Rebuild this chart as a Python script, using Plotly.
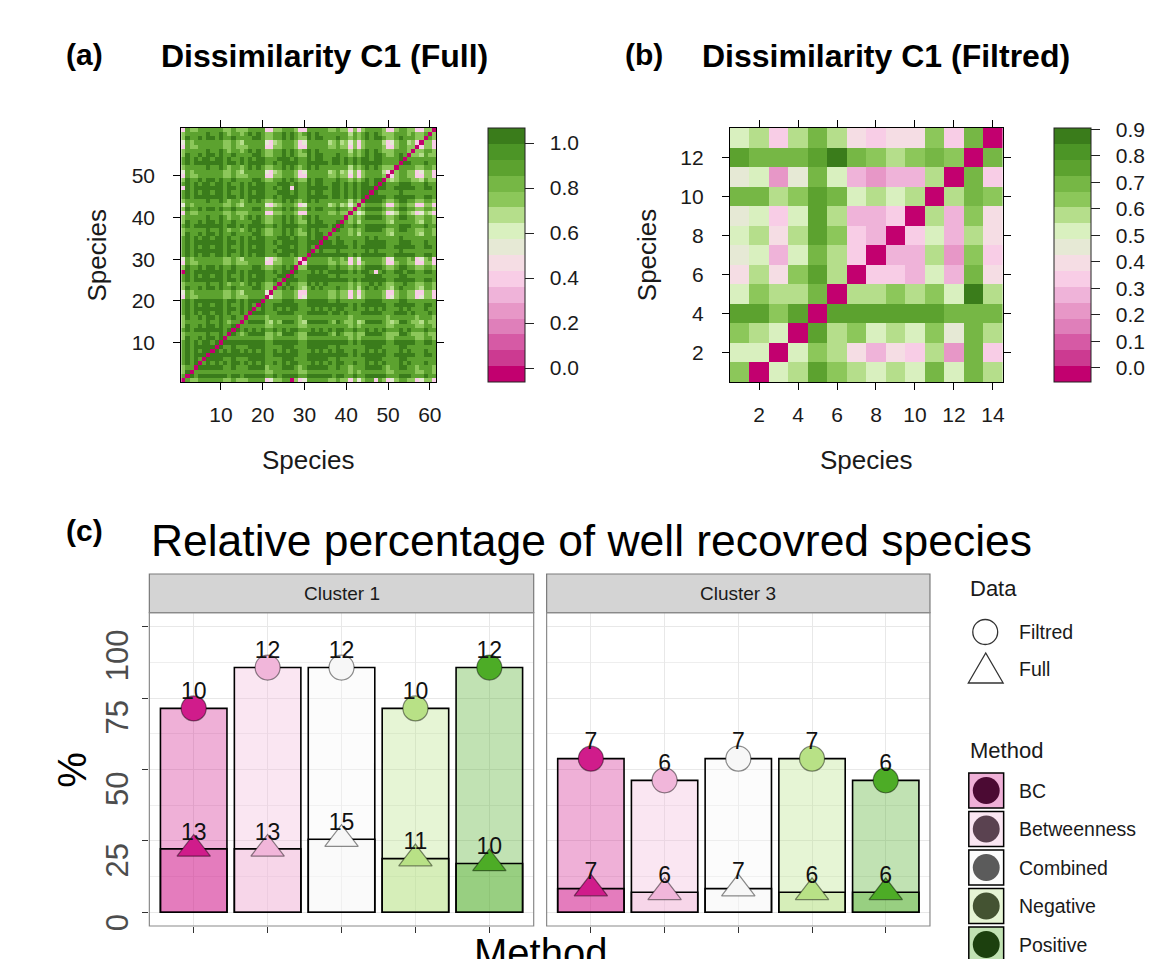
import numpy as np
import plotly.graph_objects as go

W, H = 1160, 959
def px(x): return x / W
def py(y): return 1 - y / H

FONT = "Liberation Sans, Arial, sans-serif"

# ---------------- DATA ----------------
# Panel (a): lower triangle of the 61x61 dissimilarity matrix (row i holds columns 1..i-1)
full_lower = [
    "",
    "9",
    "7a",
    "789",
    "9a9a",
    "9a9a9",
    "9a9aaa",
    "9a9a9aa",
    "9a9aaaaa",
    "9a9a9aa9a",
    "7a88a9aa9a",
    "789889a99a 8",
    "9a9aaaaaaa 9a",
    "7a88a9aa9a 88a",
    "789889a99a 8798",
    "7a88a9aa9a 88a88",
    "9a9a9aa9aa 8a99a8",
    "9a9aaaaaaa 9aa9a9a",
    "9a9a9aa9aa 8a99a8a9",
    "9a9aaaaaaa 9aa9a9aaa",
    "4977999999 7797779999",
    "5978999899 7797689989 5",
    "7a88a9aa9a 88a8889aa9 77",
    "789889a99a 879878a9a9 778",
    "9a9aaaaaaa 9aa9a9aaaa 99a9",
    "9a9a9aa9aa 8a99a8a9aa 989aa",
    "0a9aaaaaaa 9aa9a9aaaa 99a9aa",
    "7a88a9aa9a 88a8889aa9 7788a9a",
    "4977999999 7797779999 44779997",
    "5978999899 7797689989 546789974",
    "9a9a9aa9aa 8a99a8a9aa 989aaa9a98",
    "9a9aaaaaaa 9aa9a9aaaa 99a9aaaa99 a",
    "9a9a9aa9aa 8a99a8a9aa 989aaa9a98 a9",
    "9a9aaaaaaa 9aa9a9aaaa 99a9aaaa99 aaa",
    "9a9a9aa9aa 8a99a8a9aa 989aaa9a98 a9aa",
    "7a88a9aa9a 88a8889aa9 7788a9a877 a9aa9",
    "789889a99a 879878a9a9 7789a9a878 a9a998",
    "9a9aaaaaaa 9aa9a9aaaa 99a9aaaa99 aaaaa9a",
    "7a88a9aa9a 88a8889aa9 7788a9a877 a9aa988a",
    "789889a99a 879878a9a9 7789a9a878 a9a998898",
    "4977999999 7797779999 4477999744 9999977977",
    "7a88a9aa9a 88a8889aa9 7788a9a877 a9aa988a88 7",
    "5978999899 7797689989 5467899745 9899967967 57",
    "789889a99a 879878a9a9 7789a9a878 a9a9988988 687",
    "9a9aaaaaaa 9aa9a9aaaa 99a9aaaa99 aaaaa9aa9a 9a9a",
    "9a9a9aa9aa 8a99a8a9aa 989aaa9a98 a9aa99aa8a 8a9aa",
    "4a9aaaaaaa 9aa9a9aaaa 99a9aa4a99 aaaaa9aa9a 9a9aaa",
    "9a9a9aa9aa 8a99a8a9aa 989aaa9a98 a9aa99aa8a 8a9aa9a",
    "7a88a9aa9a 88a8889aa9 7788a9a877 a9aa988a88 7878a9aa",
    "4977999999 7797779999 4477999744 9999977977 474799997",
    "5978999899 7797689989 5467899745 9899967967 5747989964",
    "789889a99a 879878a9a9 7789a9a878 a9a9988988 6879a9a977 7",
    "9a9aaaaaaa 9aa9a9aaaa 99a9aaaa99 aaaaa9aa9a 9a9aaaaa99 99",
    "9a9a9aa9aa 8a99a8a9aa 989aaa9a98 a9aa99aa8a 8a9aa9aa98 89a",
    "7a88a9aa9a 88a8889aa9 7788a9a877 a9aa988a88 7878a9aa87 78a9",
    "789889a99a 879878a9a9 7789a9a878 a9a9988988 6879a9a977 78997",
    "4977999999 7797779999 4477999744 9999977977 4747999974 479977",
    "5978999899 7797689989 5467899745 9899967967 5747989964 5789674",
    "7a88a9aa9a 88a8889aa9 7788a9a877 a9aa988a88 7878a9aa87 78a98877",
    "789889a99a 879878a9a9 7789a9a878 a9a9988988 6879a9a977 789978778",
    "4977999999 7797779999 4477999744 9999977977 4747999974 4799774477",
]
# value of each level code used in the strings above
level_value = {"0": 0.0, "4": 0.42, "5": 0.55, "6": 0.65, "7": 0.76,
               "8": 0.86, "9": 0.92, "a": 1.0}

# Panel (b): 13 rows (y = 1..13, bottom to top) x 14 columns (x = 1..14)
filt_rows = [
    [0.64, 0.00, 0.52, 0.58, 0.77, 0.64, 0.58, 0.52, 0.58, 0.52, 0.68, 0.52, 0.72, 0.58],
    [0.52, 0.52, 0.00, 0.52, 0.64, 0.58, 0.42, 0.28, 0.42, 0.34, 0.58, 0.22, 0.68, 0.34],
    [0.64, 0.58, 0.52, 0.00, 0.77, 0.58, 0.64, 0.52, 0.58, 0.52, 0.64, 0.46, 0.68, 0.58],
    [0.77, 0.77, 0.64, 0.77, 0.00, 0.76, 0.77, 0.76, 0.77, 0.77, 0.76, 0.68, 0.72, 0.68],
    [0.52, 0.64, 0.58, 0.58, 0.72, 0.00, 0.58, 0.58, 0.64, 0.58, 0.64, 0.52, 0.87, 0.58],
    [0.42, 0.58, 0.42, 0.64, 0.77, 0.58, 0.00, 0.34, 0.34, 0.28, 0.52, 0.28, 0.68, 0.42],
    [0.46, 0.52, 0.28, 0.52, 0.72, 0.58, 0.34, 0.00, 0.28, 0.28, 0.58, 0.22, 0.64, 0.34],
    [0.52, 0.58, 0.42, 0.58, 0.77, 0.64, 0.34, 0.28, 0.00, 0.34, 0.52, 0.28, 0.60, 0.42],
    [0.46, 0.52, 0.34, 0.52, 0.77, 0.58, 0.28, 0.28, 0.34, 0.00, 0.58, 0.28, 0.64, 0.42],
    [0.68, 0.68, 0.60, 0.64, 0.77, 0.68, 0.52, 0.58, 0.52, 0.58, 0.00, 0.58, 0.72, 0.64],
    [0.46, 0.52, 0.22, 0.46, 0.68, 0.52, 0.28, 0.22, 0.28, 0.28, 0.58, 0.00, 0.68, 0.34],
    [0.77, 0.72, 0.68, 0.68, 0.77, 0.87, 0.68, 0.64, 0.58, 0.64, 0.72, 0.64, 0.00, 0.68],
    [0.52, 0.58, 0.34, 0.58, 0.68, 0.58, 0.42, 0.34, 0.42, 0.42, 0.64, 0.34, 0.68, 0.00],
]

cb_a_ticks = [0.0, 0.2, 0.4, 0.6, 0.8, 1.0]
cb_b_ticks = [0.0, 0.1, 0.2, 0.3, 0.4, 0.5, 0.6, 0.7, 0.8, 0.9]
a_ticks = [10, 20, 30, 40, 50, 60]
a_yticks = [10, 20, 30, 40, 50]
b_xticks = [2, 4, 6, 8, 10, 12, 14]
b_yticks = [2, 4, 6, 8, 10, 12]

# Panel (c)
methods = ["BC", "Betweenness", "Combined", "Negative", "Positive"]
clusters = ["Cluster 1", "Cluster 3"]
filtred_pct = {"Cluster 1": [71.4, 85.7, 85.7, 71.4, 85.7],
               "Cluster 3": [53.8, 46.2, 53.8, 53.8, 46.2]}
filtred_n = {"Cluster 1": [10, 12, 12, 10, 12],
             "Cluster 3": [7, 6, 7, 7, 6]}
full_pct = {"Cluster 1": [22.2, 22.2, 25.6, 18.8, 17.1],
            "Cluster 3": [8.3, 7.0, 8.3, 7.0, 7.0]}
full_n = {"Cluster 1": [13, 13, 15, 11, 10],
          "Cluster 3": [7, 6, 7, 6, 6]}
c_yticks = [0, 25, 50, 75, 100]

# ---------------- STYLE ----------------
method_colors = ["#d01c8b", "#f1b6da", "#f7f7f7", "#b8e186", "#4dac26"]
legend_inner = ["#4b0a33", "#5a4250", "#5b5b5b", "#445332", "#1c400e"]
bins16 = ["#c2006f", "#cc3a91", "#d65aa5", "#df7fba", "#e797c7", "#efb3d9",
          "#f8cde6", "#f5dde4", "#e6e9d5", "#d9f0bf", "#b5de8b", "#8cc75a",
          "#76b745", "#5ca22f", "#4c9526", "#3a7c1b"]

def discrete_scale(cols):
    n = len(cols)
    sc = []
    for k, c in enumerate(cols):
        sc.append([k / n, c])
        sc.append([(k + 1) / n, c])
    return sc

def rgba(hx, a):
    hx = hx.lstrip("#")
    r, g, b = int(hx[0:2], 16), int(hx[2:4], 16), int(hx[4:6], 16)
    return f"rgba({r},{g},{b},{a})"

# build matrix (a)
n = len(full_lower)
Z = np.zeros((n, n))
for i, s in enumerate(full_lower):
    s = s.replace(" ", "")
    for j, ch in enumerate(s[:i]):
        v = level_value[ch]
        Z[i, j] = v
        Z[j, i] = v

fig = go.Figure()

axis_font = dict(family=FONT, size=21, color="#1a1a1a")
cb_prefix = "\u00a0\u00a0"

fig.add_trace(go.Heatmap(
    z=Z, x=list(range(1, n + 1)), y=list(range(1, n + 1)),
    colorscale=discrete_scale(bins16), zmin=-0.062, zmax=1.067,
    xaxis="x", yaxis="y", hoverinfo="skip",
    colorbar=dict(x=px(490), xanchor="left", xpad=0, y=py(255), yanchor="middle", ypad=0,
                  len=254, lenmode="pixels", thickness=37, thicknessmode="pixels",
                  outlinewidth=1, outlinecolor="#222",
                  tickvals=cb_a_ticks, ticktext=[cb_prefix + f"{v:.1f}" for v in cb_a_ticks],
                  ticks="outside", ticklen=9, tickcolor="#222", tickfont=axis_font)))

fig.add_trace(go.Heatmap(
    z=filt_rows, x=list(range(1, 15)), y=list(range(1, 14)),
    colorscale=discrete_scale(bins16), zmin=-0.053, zmax=0.905,
    xaxis="x2", yaxis="y2", hoverinfo="skip",
    colorbar=dict(x=px(1059), xanchor="left", xpad=0, y=py(255), yanchor="middle", ypad=0,
                  len=254, lenmode="pixels", thickness=37, thicknessmode="pixels",
                  outlinewidth=1, outlinecolor="#222",
                  tickvals=cb_b_ticks, ticktext=[cb_prefix + f"{v:.1f}" for v in cb_b_ticks],
                  ticks="outside", ticklen=9, tickcolor="#222", tickfont=axis_font)))

# panel (c)
for ci, cl in enumerate(clusters):
    xa, ya = ("x3", "y3") if ci == 0 else ("x4", "y4")
    xs = list(range(1, len(methods) + 1))
    fill = [rgba(c, 0.35) for c in method_colors]
    fig.add_trace(go.Bar(x=xs, y=filtred_pct[cl], width=0.9, xaxis=xa, yaxis=ya,
                         marker=dict(color=fill, line=dict(color="black", width=1.6)),
                         showlegend=False, hoverinfo="skip"))
    fig.add_trace(go.Bar(x=xs, y=full_pct[cl], width=0.9, xaxis=xa, yaxis=ya,
                         marker=dict(color=fill, line=dict(color="black", width=1.6)),
                         showlegend=False, hoverinfo="skip"))
    fig.add_trace(go.Scatter(x=xs, y=filtred_pct[cl], mode="markers", xaxis=xa, yaxis=ya,
                             marker=dict(symbol="circle", size=25, color=method_colors,
                                         line=dict(color="rgba(0,0,0,0.45)", width=1.2)),
                             showlegend=False, hoverinfo="skip", cliponaxis=False))
    fig.add_trace(go.Scatter(x=xs, y=full_pct[cl], mode="markers", xaxis=xa, yaxis=ya,
                             marker=dict(symbol="triangle-up", size=29, color=method_colors,
                                         line=dict(color="rgba(0,0,0,0.45)", width=1.2)),
                             showlegend=False, hoverinfo="skip", cliponaxis=False))
    for vals, cnt in ((filtred_pct[cl], filtred_n[cl]), (full_pct[cl], full_n[cl])):
        fig.add_trace(go.Scatter(x=xs, y=vals, mode="markers+text", xaxis=xa, yaxis=ya,
                                 text=[str(c) for c in cnt], textposition="top center",
                                 textfont=dict(family=FONT, size=23, color="#111"),
                                 marker=dict(size=4, color="rgba(0,0,0,0)"),
                                 showlegend=False, hoverinfo="skip", cliponaxis=False))

heat_ax = dict(ticks="outside", ticklen=7, tickcolor="black", showline=True,
               linecolor="black", linewidth=1, mirror="ticks", showgrid=False,
               zeroline=False, tickfont=axis_font)

c_x = dict(range=[0.4, 5.6], tickvals=[1, 2, 3, 4, 5], showticklabels=False,
           ticks="outside", ticklen=6, tickcolor="#333", showgrid=True,
           gridcolor="#e8e8e8", gridwidth=1.2, zeroline=False, showline=False, fixedrange=True)
c_y = dict(range=[-4.8, 104.9], tickvals=c_yticks, showticklabels=False,
           showgrid=True, gridcolor="#e8e8e8", gridwidth=1.2, zeroline=False, showline=False,
           minor=dict(tickvals=[12.5, 37.5, 62.5, 87.5], showgrid=True,
                      gridcolor="#eeeeee", gridwidth=1, ticks=""))

c_ydom = [py(926), py(612.7)]
fig.update_layout(
    width=W, height=H, margin=dict(l=0, r=0, t=0, b=0),
    paper_bgcolor="white", plot_bgcolor="white",
    font=dict(family=FONT, color="#1a1a1a"),
    barmode="overlay", showlegend=False,
    xaxis=dict(domain=[px(182), px(438)], range=[0.5, 61.5], tickvals=a_ticks, anchor="y",
               ticklabelstandoff=7, **heat_ax),
    yaxis=dict(domain=[py(382), py(128)], range=[0.5, 61.5], tickvals=a_yticks, anchor="x",
               ticklabelstandoff=14, **heat_ax),
    xaxis2=dict(domain=[px(733), px(1007)], range=[0.5, 14.5], tickvals=b_xticks, anchor="y2",
                ticklabelstandoff=7, **heat_ax),
    yaxis2=dict(domain=[py(382), py(128)], range=[0.5, 13.5], tickvals=b_yticks, anchor="x2",
                ticklabelstandoff=14, **heat_ax),
    xaxis3=dict(domain=[px(150), px(536)], anchor="y3", **c_x),
    yaxis3=dict(domain=c_ydom, anchor="x3", ticks="outside", ticklen=6, tickcolor="#333", **c_y),
    xaxis4=dict(domain=[px(549), px(934)], anchor="y4", **c_x),
    yaxis4=dict(domain=c_ydom, anchor="x4", ticks="", **c_y),
)

ann = []
def A(x, y, text, size, bold=False, xanchor="center", yanchor="middle", angle=0,
      color="#1a1a1a", xref="paper", yref="paper"):
    t = f"<b>{text}</b>" if bold else text
    ann.append(dict(x=x, y=y, xref=xref, yref=yref, text=t, showarrow=False,
                    xanchor=xanchor, yanchor=yanchor, textangle=angle,
                    font=dict(family=FONT, size=size, color=color)))

A(px(64), py(54), "(a)", 30, bold=True, xanchor="left", color="black")
A(px(325.5), py(56), "Dissimilarity C1 (Full)", 32, bold=True, color="black")
A(px(626), py(54), "(b)", 30, bold=True, xanchor="left", color="black")
A(px(890), py(56), "Dissimilarity C1 (Filtred)", 32, bold=True, color="black")
A(px(310), py(460), "Species", 26)
A(px(97), py(255), "Species", 26, angle=-90)
A(px(870), py(460), "Species", 26)
A(px(650), py(255), "Species", 26, angle=-90)
A(px(64), py(530), "(c)", 30, bold=True, xanchor="left", color="black")
A(px(150), py(540), "Relative percentage of well recovred species", 44.4, xanchor="left", color="black")
A(px(72), py(770), "%", 40, angle=-90, color="black")
A(px(543), py(929), "Method", 40, yanchor="top", color="black")
for v in c_yticks:
    A(px(118), v, str(v), 31, angle=-90, yanchor="top", color="#4d4d4d", yref="y3")

# strips
strip_top = 1 + (612.7 - 574) / (926 - 612.7)
shapes = []
for ci, cl in enumerate(clusters):
    xr, yr = ("x3 domain", "y3 domain") if ci == 0 else ("x4 domain", "y4 domain")
    shapes.append(dict(type="rect", xref=xr, yref=yr, x0=0, x1=1, y0=1, y1=strip_top,
                       fillcolor="#d4d4d4", line=dict(color="#7a7a7a", width=1.2)))
    shapes.append(dict(type="rect", xref=xr, yref=yr, x0=0, x1=1, y0=0, y1=1,
                       line=dict(color="#8a8a8a", width=1.2), fillcolor="rgba(0,0,0,0)"))
    A(0.5, (1 + strip_top) / 2, cl, 19, xref=xr, yref=yr)

# legend "Data"
A(px(972), py(588), "Data", 22, xanchor="left")
shapes.append(dict(type="circle", xref="paper", yref="paper",
                   x0=px(977), x1=px(1002), y0=py(644.5), y1=py(619.5),
                   line=dict(color="#333", width=1.3)))
tri = f"M {px(972.5)} {py(683)} L {px(1007.5)} {py(683)} L {px(990)} {py(653)} Z"
shapes.append(dict(type="path", xref="paper", yref="paper", path=tri,
                   line=dict(color="#333", width=1.3)))
A(px(1021), py(632), "Filtred", 19.5, xanchor="left")
A(px(1021), py(669), "Full", 19.5, xanchor="left")

# legend "Method"
A(px(972), py(750), "Method", 22, xanchor="left")
for k, m in enumerate(methods):
    top = 773 + k * 38.5
    shapes.append(dict(type="rect", xref="paper", yref="paper",
                       x0=px(973), x1=px(1008), y0=py(top + 35), y1=py(top),
                       fillcolor=rgba(method_colors[k], 0.35), line=dict(color="black", width=1.5)))
    cy = top + 17.5
    shapes.append(dict(type="circle", xref="paper", yref="paper",
                       x0=px(990.5 - 13.5), x1=px(990.5 + 13.5), y0=py(cy + 13.5), y1=py(cy - 13.5),
                       fillcolor=legend_inner[k], line=dict(width=0)))
    A(px(1021), py(cy), m, 19.5, xanchor="left")

fig.update_layout(annotations=ann, shapes=shapes)
fig.write_html("out.html", config={"displayModeBar": False},
               post_script="document.body.style.margin='0';document.body.style.padding='0';")
